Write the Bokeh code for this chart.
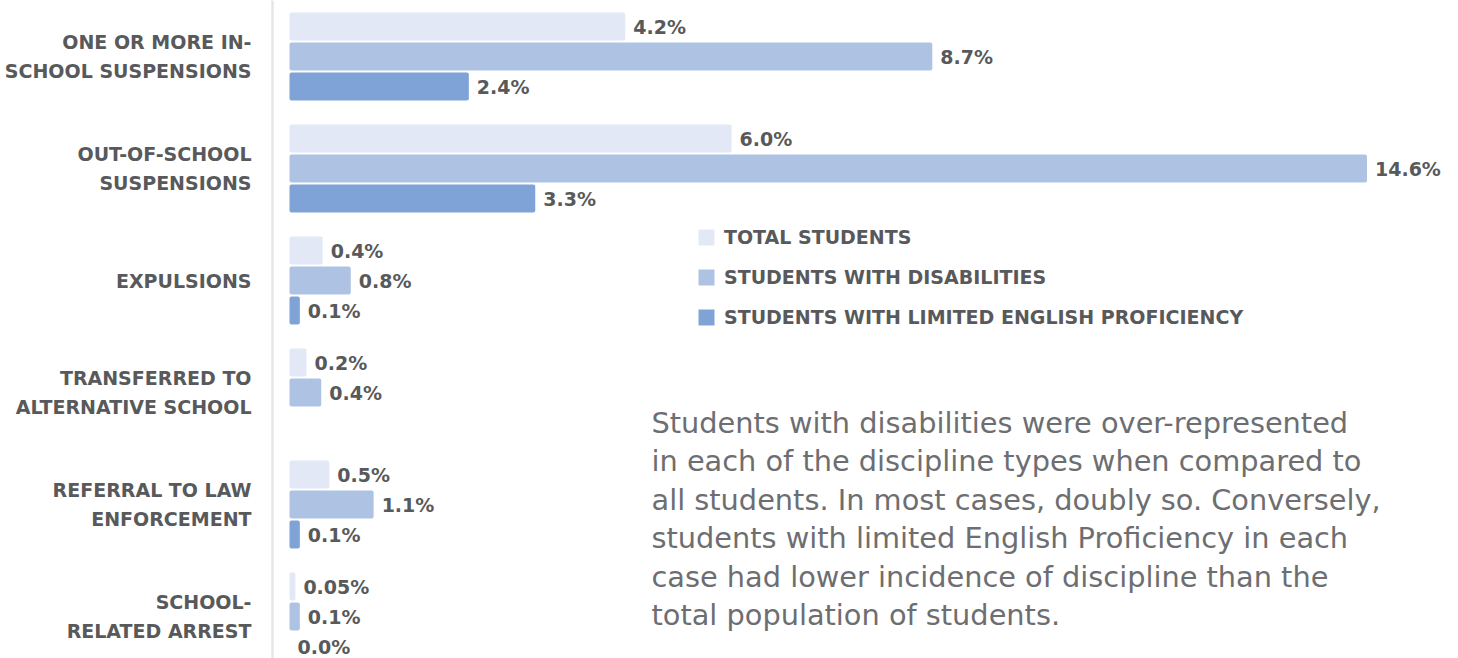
from bokeh.plotting import figure
from bokeh.models import Range1d, FixedTicker, Legend, LegendItem
from bokeh.core.properties import value
from bokeh.embed import file_html
from bokeh.resources import INLINE

# ---------------- data ----------------
categories = ["One or more in-\nschool suspensions", "Out-of-school\nsuspensions", "Expulsions",
              "Transferred to\nAlternative School", "Referral to law\nenforcement", "School-\nrelated arrest"]
series = ["Total Students", "Students with disabilities", "Students with limited English proficiency"]
total = [4.55, 5.99, 0.45, 0.23, 0.54, 0.08]
disab = [8.71, 14.6, 0.83, 0.43, 1.14, 0.14]
lep = [2.43, 3.33, 0.14, None, 0.14, 0.0]
total_labels = ["4.2%", "6.0%", "0.4%", "0.2%", "0.5%", "0.05%"]
disab_labels = ["8.7%", "14.6%", "0.8%", "0.4%", "1.1%", "0.1%"]
lep_labels = ["2.4%", "3.3%", "0.1%", None, "0.1%", "0.0%"]
note_lines = ["Students with disabilities were over-represented",
              "in each of the discipline types when compared to",
              "all students. In most cases, doubly so. Conversely,",
              "students with limited English Proficiency in each",
              "case had lower incidence of discipline than the",
              "total population of students."]
colors = ["#E2E8F5", "#AEC3E4", "#7FA3D6"]

# ---------------- layout ----------------
W, H = 1458, 658
GRAY = "#58595B"
PX_Y = 30.0          # pixels per bar slot
PX_X = 73.8          # pixels per percent
ORIGIN_X = 289       # pixel column of 0 %
AXIS_X = 272         # pixel column of the axis line
TOP = 11             # pixel row of the first slot
GROUP_STEP = 3 + 22 / PX_Y

p = figure(width=W, height=H, output_backend="svg", toolbar_location=None,
           x_range=Range1d((AXIS_X - ORIGIN_X) / PX_X, (W - ORIGIN_X) / PX_X),
           y_range=Range1d((H - TOP) / PX_Y, -TOP / PX_Y),
           min_border_left=AXIS_X, min_border_right=0, min_border_top=0, min_border_bottom=0)
p.outline_line_color = None
p.grid.visible = False
p.xaxis.visible = False
p.background_fill_color = "white"
p.border_fill_color = "white"

ticks = [i * GROUP_STEP + 1.5 for i in range(len(categories))]
p.yaxis.ticker = FixedTicker(ticks=ticks)
p.yaxis.major_label_overrides = {t: c.upper() for t, c in zip(ticks, categories)}
p.yaxis.major_tick_line_color = None
p.yaxis.minor_tick_line_color = None
p.yaxis.major_tick_out = 0
p.yaxis.major_tick_in = 0
p.yaxis.axis_line_color = "#E6E6E6"
p.yaxis.axis_line_width = 2.5
p.yaxis.major_label_standoff = 21
p.yaxis.major_label_text_font = "DejaVu Sans"
p.yaxis.major_label_text_font_style = "bold"
p.yaxis.major_label_text_font_size = "19px"
p.yaxis.major_label_text_color = GRAY
p.yaxis.major_label_text_line_height = 1.28

items = []
for j, (vals, labs) in enumerate([(total, total_labels), (disab, disab_labels), (lep, lep_labels)]):
    ys = [i * GROUP_STEP + j + 0.5 for i, v in enumerate(vals) if v is not None]
    xs = [v for v in vals if v is not None]
    ls = [l for l in labs if l is not None]
    r = p.hbar(y=ys, right=xs, left=0, height=0.93, fill_color=colors[j], line_color=None,
               border_radius=2)
    items.append(LegendItem(label=series[j].upper(), renderers=[r]))
    p.text(x=xs, y=ys, text=ls, x_offset=8, text_baseline="middle", text_align="left",
           text_font=value("DejaVu Sans"), text_font_style="bold", text_font_size="19px",
           text_color=GRAY)

legend = Legend(items=items, location=(696 - AXIS_X, H - 328), orientation="vertical",
                glyph_width=20, glyph_height=20, label_height=20, spacing=18,
                label_standoff=8, padding=0, margin=0,
                border_line_color=None, background_fill_alpha=0,
                label_text_font="DejaVu Sans", label_text_font_style="bold",
                label_text_font_size="19px", label_text_color=GRAY)
p.add_layout(legend, "center")

note_x = (651 - ORIGIN_X) / PX_X
note_y = [(422 - TOP) / PX_Y + k * 38.5 / PX_Y for k in range(len(note_lines))]
p.text(x=[note_x] * len(note_lines), y=note_y, text=note_lines, text_baseline="middle",
       text_align="left", text_font=value("DejaVu Sans"), text_font_size="28.8px", text_color="#6D6E71")

open("out.html", "w").write(file_html(p, INLINE))
